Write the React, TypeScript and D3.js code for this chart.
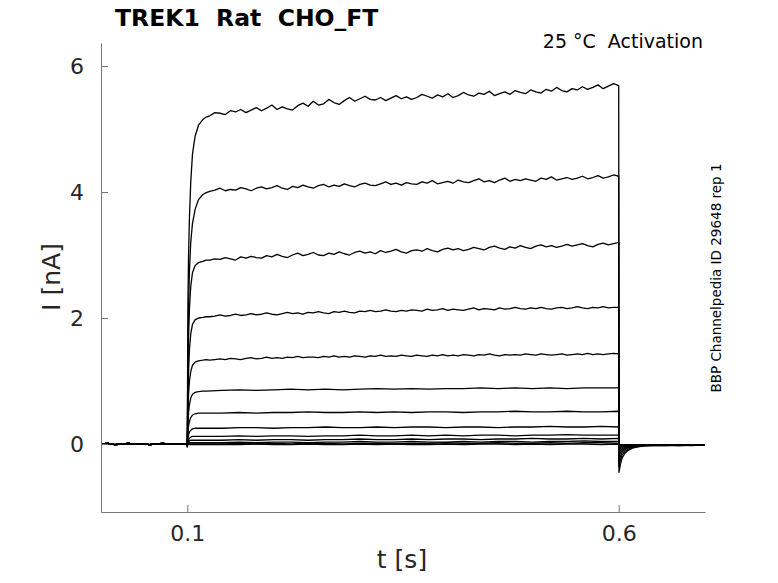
import { useRef, useEffect } from 'react';
import * as d3 from 'd3';

const W = 778;
const H = 583;

// sample clock (s)
const PRE_T = [0, 0.008, 0.016, 0.024, 0.032, 0.04, 0.048, 0.056, 0.064, 0.072, 0.08, 0.088, 0.096, 0.0995];
const RISE_T = [0.1, 0.1004, 0.1008, 0.1015, 0.1025, 0.104, 0.106, 0.109, 0.113, 0.118, 0.122];
const FINE_T = d3.range(80).map(i => 0.126 + 0.006 * i);
const COARSE_T = d3.range(24).map(i => 0.14 + 0.02 * i);
const TAIL_T = [0.6003, 0.601, 0.602, 0.604, 0.607, 0.611, 0.616, 0.622, 0.63, 0.64, 0.655, 0.67, 0.685, 0.7];

// holding current before the step (nA), shared by all sweeps
const PRE_V = [0.0, 0.01, -0.01, 0.0, 0.01, -0.005, 0.005, -0.01, 0.0, 0.01, -0.005, 0.0, 0.005, 0.0];

// activation phase, one row per sweep (largest first)
const RISE_V = [
  [-0.05, 1.2, 2.3, 3.0, 3.6, 4.15, 4.6, 4.88, 5.06, 5.15, 5.19],
  [-0.04, 0.8, 1.6, 2.2, 2.75, 3.2, 3.5, 3.72, 3.88, 3.96, 3.99],
  [-0.03, 0.6, 1.2, 1.7, 2.15, 2.5, 2.72, 2.83, 2.88, 2.9, 2.92],
  [-0.02, 0.4, 0.8, 1.15, 1.5, 1.75, 1.9, 1.97, 2.0, 2.01, 2.02],
  [-0.02, 0.28, 0.55, 0.8, 1.0, 1.15, 1.25, 1.3, 1.32, 1.33, 1.34],
  [-0.02, 0.18, 0.35, 0.5, 0.63, 0.73, 0.79, 0.82, 0.83, 0.84, 0.84],
  [-0.02, 0.1, 0.2, 0.29, 0.36, 0.42, 0.46, 0.48, 0.49, 0.49, 0.49],
  [-0.02, 0.05, 0.1, 0.15, 0.19, 0.22, 0.24, 0.25, 0.25, 0.25, 0.25],
  [-0.02, 0.02, 0.05, 0.07, 0.09, 0.11, 0.12, 0.12, 0.12, 0.12, 0.12],
  [-0.02, 0.01, 0.03, 0.04, 0.05, 0.06, 0.06, 0.06, 0.06, 0.06, 0.06],
  [-0.02, 0.0, 0.01, 0.01, 0.02, 0.02, 0.02, 0.02, 0.02, 0.02, 0.02],
  [-0.02, -0.01, 0, 0, 0, 0, 0, 0, 0, 0, 0],
  [-0.03, -0.02, -0.01, -0.01, -0.01, -0.01, -0.01, -0.01, -0.01, -0.01, -0.01],
];

// steady part of the five largest sweeps, on FINE_T
const FINE_V = [
  [5.21, 5.26, 5.25, 5.23, 5.29, 5.27, 5.31, 5.26, 5.30, 5.34,
    5.29, 5.33, 5.38, 5.31, 5.35, 5.32, 5.30, 5.37, 5.41, 5.36,
    5.44, 5.38, 5.40, 5.47, 5.42, 5.39, 5.45, 5.50, 5.44, 5.48,
    5.52, 5.47, 5.46, 5.50, 5.45, 5.49, 5.53, 5.48, 5.51, 5.47,
    5.50, 5.55, 5.52, 5.49, 5.54, 5.51, 5.56, 5.50, 5.53, 5.58,
    5.54, 5.52, 5.57, 5.55, 5.60, 5.53, 5.56, 5.59, 5.55, 5.61,
    5.58, 5.56, 5.62, 5.59, 5.57, 5.63, 5.60, 5.66, 5.61, 5.59,
    5.64, 5.62, 5.67, 5.63, 5.66, 5.70, 5.64, 5.68, 5.72, 5.69],
  [4.01, 4.03, 4.06, 4.02, 4.04, 4.03, 4.07, 4.05, 4.02, 4.06,
    4.08, 4.05, 4.07, 4.10, 4.06, 4.04, 4.09, 4.07, 4.11, 4.08,
    4.06, 4.10, 4.12, 4.08, 4.11, 4.09, 4.13, 4.10, 4.08, 4.12,
    4.14, 4.11, 4.10, 4.13, 4.16, 4.12, 4.14, 4.11, 4.15, 4.13,
    4.12, 4.16, 4.14, 4.18, 4.13, 4.15, 4.17, 4.14, 4.19, 4.16,
    4.15, 4.18, 4.21, 4.16, 4.18, 4.15, 4.19, 4.22, 4.17, 4.20,
    4.18, 4.21, 4.19, 4.17, 4.22, 4.20, 4.24, 4.19, 4.21, 4.23,
    4.20, 4.22, 4.25, 4.21, 4.23, 4.26, 4.22, 4.24, 4.27, 4.25],
  [2.92, 2.94, 2.93, 2.96, 2.94, 2.92, 2.97, 2.95, 2.98, 2.96,
    2.95, 2.99, 2.97, 3.01, 2.98, 2.96, 3.00, 3.03, 2.99, 3.01,
    3.04, 3.00, 2.99, 3.03, 3.01, 3.05, 3.02, 3.00, 3.04, 3.06,
    3.03, 3.05, 3.02, 3.07, 3.04, 3.06, 3.09, 3.05, 3.03, 3.07,
    3.08, 3.06, 3.10, 3.07, 3.05, 3.09, 3.11, 3.08, 3.10, 3.07,
    3.09, 3.12, 3.10, 3.08, 3.12, 3.14, 3.11, 3.09, 3.13, 3.11,
    3.15, 3.12, 3.10, 3.14, 3.16, 3.13, 3.15, 3.12, 3.14, 3.17,
    3.14, 3.16, 3.18, 3.15, 3.13, 3.17, 3.19, 3.16, 3.18, 3.20],
  [2.02, 2.03, 2.05, 2.03, 2.04, 2.06, 2.04, 2.05, 2.07, 2.05,
    2.06, 2.08, 2.06, 2.05, 2.07, 2.09, 2.07, 2.08, 2.06, 2.09,
    2.08, 2.10, 2.08, 2.07, 2.10, 2.09, 2.11, 2.09, 2.08, 2.11,
    2.10, 2.12, 2.10, 2.11, 2.13, 2.11, 2.10, 2.12, 2.11, 2.13,
    2.12, 2.11, 2.14, 2.12, 2.13, 2.15, 2.12, 2.14, 2.13, 2.12,
    2.14, 2.16, 2.13, 2.15, 2.14, 2.13, 2.16, 2.14, 2.15, 2.17,
    2.15, 2.14, 2.16, 2.15, 2.17, 2.15, 2.14, 2.16, 2.17, 2.15,
    2.16, 2.18, 2.16, 2.15, 2.17, 2.16, 2.18, 2.16, 2.17, 2.17],
  [1.33, 1.34, 1.35, 1.34, 1.36, 1.35, 1.34, 1.36, 1.37, 1.35,
    1.36, 1.38, 1.36, 1.37, 1.36, 1.38, 1.37, 1.39, 1.37, 1.38,
    1.38, 1.37, 1.39, 1.38, 1.40, 1.38, 1.39, 1.38, 1.40, 1.39,
    1.38, 1.40, 1.39, 1.41, 1.39, 1.40, 1.39, 1.41, 1.40, 1.39,
    1.41, 1.40, 1.39, 1.41, 1.40, 1.42, 1.40, 1.41, 1.40, 1.42,
    1.41, 1.40, 1.42, 1.41, 1.43, 1.41, 1.40, 1.42, 1.41, 1.42,
    1.41, 1.43, 1.42, 1.41, 1.43, 1.42, 1.41, 1.42, 1.43, 1.41,
    1.42, 1.43, 1.42, 1.44, 1.42, 1.43, 1.42, 1.43, 1.44, 1.43],
];

// steady part of the smaller sweeps, on COARSE_T
const COARSE_V = [
  [0.85, 0.86, 0.85, 0.86, 0.87, 0.86, 0.87, 0.86, 0.87, 0.88, 0.87, 0.88, 0.87, 0.88, 0.88, 0.89, 0.88, 0.89, 0.88, 0.89, 0.88, 0.89, 0.89, 0.89],
  [0.49, 0.50, 0.49, 0.50, 0.50, 0.51, 0.50, 0.50, 0.51, 0.50, 0.51, 0.50, 0.51, 0.51, 0.50, 0.51, 0.51, 0.52, 0.51, 0.51, 0.52, 0.51, 0.51, 0.52],
  [0.25, 0.26, 0.26, 0.25, 0.26, 0.26, 0.27, 0.26, 0.26, 0.27, 0.26, 0.27, 0.27, 0.26, 0.27, 0.27, 0.26, 0.27, 0.27, 0.28, 0.27, 0.27, 0.28, 0.27],
  [0.12, 0.13, 0.12, 0.13, 0.13, 0.12, 0.13, 0.13, 0.14, 0.13, 0.13, 0.14, 0.13, 0.14, 0.13, 0.14, 0.14, 0.13, 0.14, 0.14, 0.15, 0.14, 0.14, 0.14],
  [0.06, 0.07, 0.06, 0.07, 0.07, 0.06, 0.07, 0.07, 0.08, 0.07, 0.07, 0.08, 0.07, 0.08, 0.08, 0.07, 0.08, 0.08, 0.09, 0.08, 0.08, 0.09, 0.08, 0.09],
  [0.02, 0.03, 0.02, 0.03, 0.03, 0.02, 0.03, 0.03, 0.04, 0.03, 0.03, 0.04, 0.03, 0.03, 0.04, 0.03, 0.04, 0.04, 0.03, 0.04, 0.04, 0.05, 0.04, 0.04],
  [0.00, 0.01, 0.00, 0.01, 0.00, 0.01, 0.01, 0.00, 0.01, 0.01, 0.00, 0.01, 0.01, 0.02, 0.01, 0.01, 0.02, 0.01, 0.01, 0.02, 0.01, 0.02, 0.02, 0.01],
  [-0.01, -0.01, 0.00, -0.01, -0.01, 0.00, -0.01, -0.01, 0.00, -0.01, 0.00, -0.01, -0.01, 0.00, -0.01, 0.00, 0.00, -0.01, 0.00, -0.01, 0.00, 0.00, -0.01, 0.00],
];

// tail currents after the step, on TAIL_T
const TAIL_V = [
  [-0.45, -0.40, -0.32, -0.22, -0.15, -0.10, -0.065, -0.045, -0.03, -0.025, -0.02, -0.03, -0.015, -0.02],
  [-0.36, -0.31, -0.25, -0.17, -0.12, -0.08, -0.055, -0.04, -0.03, -0.02, -0.025, -0.015, -0.02, -0.01],
  [-0.28, -0.24, -0.19, -0.13, -0.09, -0.06, -0.045, -0.035, -0.025, -0.02, -0.015, -0.02, -0.025, -0.015],
  [-0.21, -0.18, -0.14, -0.1, -0.07, -0.05, -0.035, -0.03, -0.02, -0.02, -0.015, -0.01, -0.02, -0.015],
  [-0.15, -0.13, -0.1, -0.075, -0.055, -0.04, -0.03, -0.025, -0.02, -0.015, -0.02, -0.015, -0.01, -0.02],
  [-0.1, -0.09, -0.07, -0.055, -0.04, -0.03, -0.025, -0.02, -0.015, -0.02, -0.01, -0.015, -0.02, -0.01],
  [-0.07, -0.06, -0.05, -0.04, -0.03, -0.025, -0.02, -0.015, -0.02, -0.01, -0.015, -0.02, -0.01, -0.015],
  [-0.05, -0.045, -0.035, -0.03, -0.025, -0.02, -0.015, -0.02, -0.01, -0.015, -0.02, -0.01, -0.015, -0.01],
  [-0.04, -0.035, -0.03, -0.025, -0.02, -0.015, -0.02, -0.01, -0.015, -0.01, -0.02, -0.015, -0.01, -0.015],
  [-0.03, -0.03, -0.025, -0.02, -0.015, -0.02, -0.01, -0.015, -0.01, -0.02, -0.01, -0.015, -0.02, -0.01],
  [-0.03, -0.025, -0.02, -0.015, -0.02, -0.01, -0.015, -0.01, -0.02, -0.01, -0.015, -0.01, -0.015, -0.02],
  [-0.025, -0.02, -0.015, -0.02, -0.01, -0.015, -0.01, -0.02, -0.01, -0.015, -0.01, -0.02, -0.015, -0.01],
  [-0.02, -0.02, -0.015, -0.01, -0.015, -0.01, -0.02, -0.01, -0.015, -0.01, -0.02, -0.01, -0.015, -0.01],
];

const X_TICKS = [0.1, 0.6];
const Y_TICKS = [0, 2, 4, 6];

type Pt = [number, number];

function zip(ts: number[], vs: number[]): Pt[] {
  return ts.map((t, i) => [t, vs[i]] as Pt);
}

function buildSweeps(): Pt[][] {
  return RISE_V.map((rise, k) => {
    const steady = k < FINE_V.length ? zip(FINE_T, FINE_V[k]) : zip(COARSE_T, COARSE_V[k - FINE_V.length]);
    return [...zip(PRE_T, PRE_V), ...zip(RISE_T, rise), ...steady, ...zip(TAIL_T, TAIL_V[k])];
  });
}

export default function App() {
  const ref = useRef<SVGSVGElement>(null);

  useEffect(() => {
    if (!ref.current) return;
    const svg = d3.select(ref.current);
    svg.selectAll('*').remove();

    const left = 101, right = 705, top = 43, bottom = 512;
    const font = 'DejaVu Sans, sans-serif';
    const axisColor = '#777';
    const labelColor = '#262626';

    const x = d3.scaleLinear().domain([0, 0.7]).range([left, right]);
    const y = d3.scaleLinear().domain([-1.079, 6.365]).range([bottom, top]);

    const line = d3.line<Pt>().x(d => x(d[0])).y(d => y(d[1]));

    const sweeps = buildSweeps();
    svg.append('g')
      .selectAll('path')
      .data(sweeps)
      .join('path')
      .attr('fill', 'none')
      .attr('stroke', '#000')
      .attr('stroke-width', 1.3)
      .attr('stroke-linejoin', 'round')
      .attr('d', d => line(d));

    svg.append('g')
      .attr('transform', `translate(0,${bottom})`)
      .call(d3.axisBottom(x).tickValues(X_TICKS).tickFormat(d3.format('.1f')).tickSizeInner(-7).tickSizeOuter(0).tickPadding(13))
      .call(sel => sel.select('.domain').attr('stroke', axisColor))
      .call(sel => sel.selectAll('line').attr('stroke', axisColor))
      .call(sel => sel.selectAll('text').attr('fill', labelColor).attr('font-size', 22).attr('font-family', font));

    svg.append('g')
      .attr('transform', `translate(${left},0)`)
      .call(d3.axisLeft(y).tickValues(Y_TICKS).tickFormat(d3.format('d')).tickSizeInner(-7).tickSizeOuter(0).tickPadding(17))
      .call(sel => sel.select('.domain').attr('stroke', axisColor))
      .call(sel => sel.selectAll('line').attr('stroke', axisColor))
      .call(sel => sel.selectAll('text').attr('fill', labelColor).attr('font-size', 22).attr('font-family', font));

    // labels
    svg.append('text')
      .attr('x', (left + right) / 2 - 1).attr('y', 568)
      .attr('text-anchor', 'middle')
      .attr('fill', labelColor).attr('font-size', 25).attr('font-family', font)
      .text('t [s]');

    svg.append('text')
      .attr('transform', `translate(60,277) rotate(-90)`)
      .attr('text-anchor', 'middle')
      .attr('fill', labelColor).attr('font-size', 25).attr('font-family', font)
      .text('I [nA]');

    svg.append('text')
      .attr('x', 115).attr('y', 26)
      .attr('fill', '#000').attr('font-size', 23.5).attr('font-weight', 'bold').attr('font-family', font)
      .style('white-space', 'pre')
      .text('TREK1  Rat  CHO_FT');

    svg.append('text')
      .attr('x', 703).attr('y', 48)
      .attr('text-anchor', 'end')
      .attr('fill', '#000').attr('font-size', 19).attr('font-family', font)
      .style('white-space', 'pre')
      .text('25 °C  Activation');

    svg.append('text')
      .attr('transform', `translate(721,278) rotate(-90)`)
      .attr('text-anchor', 'middle')
      .attr('fill', '#000').attr('font-size', 13.5).attr('font-family', font)
      .text('BBP Channelpedia ID 29648 rep 1');
  }, []);

  return (
    <svg
      ref={ref}
      width={W}
      height={H}
      style={{ position: 'absolute', left: 0, top: 0, background: '#fff' }}
    />
  );
}
